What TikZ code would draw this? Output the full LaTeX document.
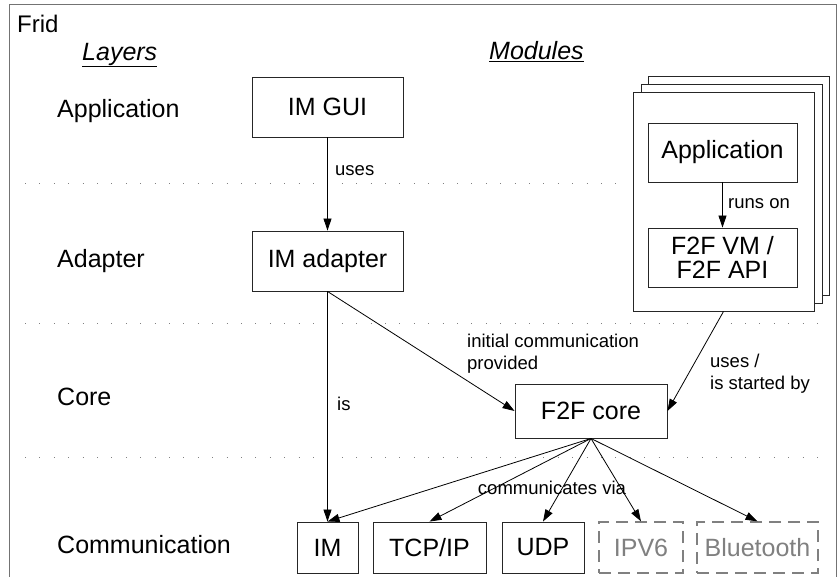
\documentclass[tikz,border=0pt]{standalone}
\usepackage{fontspec}
\setmainfont{Liberation Sans}
\usetikzlibrary{arrows.meta}

\begin{document}
\begin{tikzpicture}[x=1pt,y=-1pt,
  big/.style={font=\fontsize{25}{23.5}\selectfont},
  small/.style={font=\fontsize{18.5}{22}\selectfont},
  box/.style={big, draw=black!85, line width=0.9pt, fill=white, inner sep=0pt, align=center},
  optbox/.style={box, draw=black!50, text=black!50, line width=1.3pt, dash pattern=on 12pt off 7pt},
  sheet/.style={draw=black!85, line width=0.9pt, fill=white, inner sep=0pt, minimum width=181pt, minimum height=219pt},
  link/.style={draw=black, line width=0.8pt, -{Triangle[length=12pt,width=8pt]}},
  lbl/.style={small, inner sep=0pt, anchor=base west, align=left},
  layer/.style={big, inner sep=0pt, anchor=base west},
  sep/.style={draw=black!50, line width=0.8pt, dash pattern=on 0.8pt off 13.6pt},
]
\useasboundingbox (0,0) rectangle (837,576);

% outer frame
\draw[black!55, line width=1pt] (9,580) -- (9,4) -- (836,4) -- (836,580);

% layer separators
\draw[sep] (25,183) -- (618,183);
\draw[sep] (25,323) -- (830,323);
\draw[sep] (25,457) -- (830,457);

% headings
\node[layer, font=\fontsize{24}{28}\selectfont] (frid) at (17,32) {Frid};
\node[layer] (layers) at (82,60) {\underline{\itshape Layers}};
\node[layer] (modules) at (489,59.5) {\underline{\itshape Modules}};

% layer names
\node[layer] (lapp) at (57,117) {Application};
\node[layer] (ladp) at (57,267) {Adapter};
\node[layer] (lcore) at (57,405) {Core};
\node[layer] (lcomm) at (57,553) {Communication};

% stacked application sheets
\node[sheet] (sheetc) at (738.5,185.5) {};
\node[sheet] (sheetb) at (731.5,193.5) {};
\node[sheet] (sheeta) at (723.5,201.5) {};

% modules
\node[box, minimum width=151pt, minimum height=60pt] (gui) at (327.5,107) {IM GUI};
\node[box, minimum width=151pt, minimum height=60pt] (adp) at (327.5,261) {IM adapter};
\node[box, minimum width=149pt, minimum height=59pt] (app) at (722.5,152.5) {Application};
\node[box, minimum width=149pt, minimum height=59pt] (vm) at (722.5,257.5) {F2F VM /\\F2F API};
\node[box, minimum width=152pt, minimum height=54pt] (core) at (591,411) {F2F core};

% transports
\node[box, minimum width=61pt, minimum height=51pt] (im) at (327.5,547.5) {IM};
\node[box, minimum width=113pt, minimum height=51pt] (tcp) at (429.5,547.5) {TCP/IP};
\node[box, minimum width=82pt, minimum height=51pt] (udp) at (543,547.5) {UDP};
\node[optbox, minimum width=84pt, minimum height=51pt] (ipv6) at (641,547.5) {IPV6};
\node[optbox, minimum width=121pt, minimum height=51pt] (bt) at (757.5,547.5) {Bluetooth};

% relations
\draw[link] (gui) -- (adp);
\node[lbl] (luses) at (335,175) {uses};
\draw[link] (app) -- (vm);
\node[lbl] (lruns) at (728,208) {runs on};
\draw[link] (adp.south) -- (im.north);
\node[lbl] (lis) at (337,410) {is};
\draw[link] (adp.south) -- (core.west);
\node[lbl] (linit) at (467,369) {initial communication\\provided};
\draw[link] (sheeta.south) -- (core.east);
\node[lbl] (lstart) at (710,389) {uses /\\is started by};

\draw[link] (core.south) -- (im.north);
\draw[link] (core.south) -- (tcp.north);
\draw[link] (core.south) -- (udp.north);
\draw[link] (core.south) -- (ipv6.north);
\draw[link] (core.south) -- (bt.north);
\node[small, inner sep=0pt, anchor=base] (lvia) at (552,494) {communicates via};
\end{tikzpicture}
\end{document}
